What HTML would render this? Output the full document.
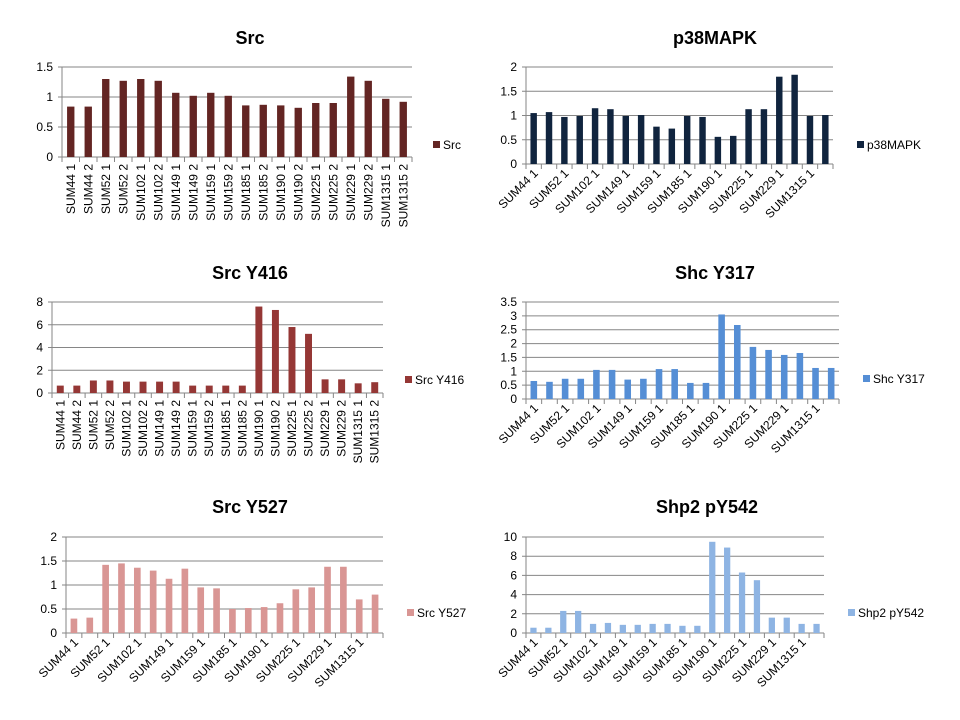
<!DOCTYPE html>
<html><head><meta charset="utf-8"><style>
body{margin:0;background:#fff;}
svg{display:block;font-family:"Liberation Sans",sans-serif;}
</style></head><body>
<svg id="c" width="960" height="720"></svg>
<script>
const categories=["SUM44 1","SUM44 2","SUM52 1","SUM52 2","SUM102 1","SUM102 2","SUM149 1","SUM149 2","SUM159 1","SUM159 2","SUM185 1","SUM185 2","SUM190 1","SUM190 2","SUM225 1","SUM225 2","SUM229 1","SUM229 2","SUM1315 1","SUM1315 2"];
const srcValues=[0.84,0.84,1.30,1.27,1.30,1.27,1.07,1.02,1.07,1.02,0.86,0.87,0.86,0.82,0.90,0.90,1.34,1.27,0.97,0.92];
const p38Values=[1.05,1.07,0.97,0.99,1.15,1.13,0.99,1.01,0.77,0.73,0.99,0.97,0.56,0.58,1.13,1.13,1.80,1.84,0.99,1.01];
const y416Values=[0.65,0.65,1.1,1.1,1.0,1.0,1.0,1.0,0.65,0.65,0.65,0.65,7.6,7.3,5.8,5.2,1.2,1.2,0.85,0.95];
const shcValues=[0.65,0.62,0.73,0.73,1.05,1.05,0.70,0.73,1.08,1.08,0.58,0.58,3.05,2.67,1.88,1.77,1.59,1.66,1.12,1.12];
const y527Values=[0.30,0.32,1.42,1.45,1.36,1.30,1.13,1.34,0.95,0.93,0.50,0.52,0.54,0.62,0.91,0.95,1.38,1.38,0.70,0.80];
const shp2Values=[0.55,0.55,2.3,2.3,0.95,1.05,0.85,0.85,0.95,0.95,0.75,0.75,9.5,8.9,6.3,5.5,1.6,1.6,0.95,0.95];
const srcTicks=["0","0.5","1","1.5"];
const p38Ticks=["0","0.5","1","1.5","2"];
const y416Ticks=["0","2","4","6","8"];
const shcTicks=["0","0.5","1","1.5","2","2.5","3","3.5"];
const y527Ticks=["0","0.5","1","1.5","2"];
const shp2Ticks=["0","2","4","6","8","10"];

const NS="http://www.w3.org/2000/svg";
const svg=document.getElementById('c');
function mk(tag,attrs,parent,text){const e=document.createElementNS(NS,tag);for(const k in attrs)e.setAttribute(k,attrs[k]);if(text!==undefined)e.textContent=text;parent.appendChild(e);return e;}

function chart(o){
  const g=mk('g',{},svg);
  
  
  const t=mk('text',{x:o.tx,y:o.ty,'text-anchor':'middle','font-size':18,'font-weight':'bold',fill:'#000'},g,o.title);
  
  
  const max=parseFloat(o.ticks[o.ticks.length-1]);
  const ys=v=>o.y0-(v/max)*(o.y0-o.y1);
  o.ticks.forEach(tk=>{
    const v=parseFloat(tk),y=ys(v);
    const l=mk('line',{x1:o.x0-4,x2:o.x1,y1:y,y2:y,stroke:'#868686','stroke-width':1},g);
    
    
    const tl=mk('text',{x:o.x0-9,y:y+4,'text-anchor':'end','font-size':12,fill:'#000'},g,tk);
    
    
  });
  const ax=mk('line',{x1:o.x0,x2:o.x0,y1:o.y1,y2:o.y0,stroke:'#868686'},g);
  
  
  const n=categories.length,cw=(o.x1-o.x0)/n;
  for(let i=0;i<=n;i++){
    const x=o.x0+i*cw;
    const tm=mk('line',{x1:x,x2:x,y1:o.y0,y2:o.y0+5,stroke:'#868686'},g);
    
    
  }
  o.values.forEach((v,i)=>{
    const bw=cw*0.42,x=o.x0+i*cw+(cw-bw)/2,y=ys(v);
    const r=mk('rect',{x:x,y:y,width:bw,height:o.y0-y,fill:o.color},g);
    
    
  });
  categories.forEach((c,i)=>{
    const cx=o.x0+i*cw+cw/2;
    if(o.vertical){
      const l=mk('text',{x:0,y:0,'text-anchor':'end','font-size':12,fill:'#000',transform:`translate(${cx+4},${o.y0+7}) rotate(-90)`},g,c);
      
      
    } else if(i%2===0){
      const l=mk('text',{x:0,y:0,'text-anchor':'end','font-size':12,fill:'#000',transform:`translate(${cx+5},${o.y0+10}) rotate(-45)`},g,c);
      
      
    }
  });
  const ls=mk('rect',{x:o.lx,y:o.ly-4,width:7,height:7,fill:o.color},g);
  
  
  const lt=mk('text',{x:o.lx+10,y:o.ly+4,'font-size':12,fill:'#000'},g,o.title);
  
  
}
chart({id:'src',title:'Src',values:srcValues,ticks:srcTicks,color:'#632523',x0:62,x1:412,y1:67,y0:157,tx:250,ty:44,lx:433,ly:145,vertical:true});
chart({id:'p38mapk',title:'p38MAPK',values:p38Values,ticks:p38Ticks,color:'#10243e',x0:526,x1:833,y1:67,y0:164,tx:715,ty:44,lx:857,ly:145,vertical:false});
chart({id:'src-y416',title:'Src Y416',values:y416Values,ticks:y416Ticks,color:'#953735',x0:52,x1:383,y1:302,y0:393,tx:250,ty:279,lx:405,ly:380,vertical:true});
chart({id:'shc-y317',title:'Shc Y317',values:shcValues,ticks:shcTicks,color:'#558ed5',x0:526,x1:839,y1:302,y0:399,tx:715,ty:279,lx:863,ly:379,vertical:false});
chart({id:'src-y527',title:'Src Y527',values:y527Values,ticks:y527Ticks,color:'#d99694',x0:66,x1:383,y1:537,y0:633,tx:250,ty:513,lx:407,ly:613,vertical:false});
chart({id:'shp2-py542',title:'Shp2 pY542',values:shp2Values,ticks:shp2Ticks,color:'#8eb4e3',x0:526,x1:824,y1:537,y0:633,tx:707,ty:513,lx:848,ly:613,vertical:false});
</script>
</body></html>
